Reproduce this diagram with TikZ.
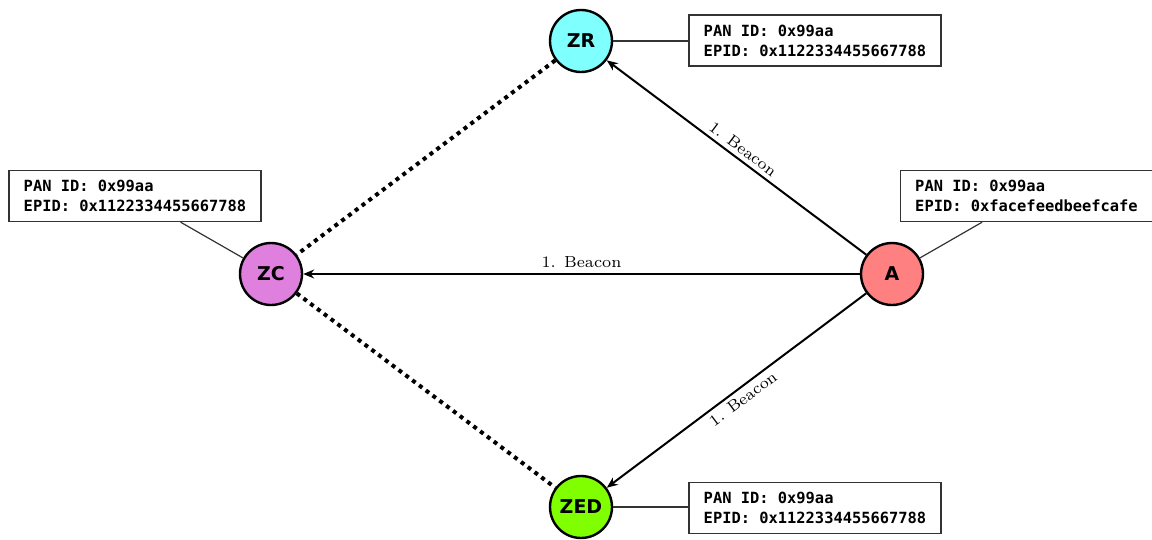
\documentclass[tikz,border=0pt]{standalone}
\usepackage{fontspec}
\newfontfamily\nodefont{DejaVu Sans}
\newfontfamily\monofont{DejaVu Sans Mono}
\newfontfamily\lblfont{lmroman7-regular.otf}
\usetikzlibrary{calc,arrows.meta}
\definecolor{zrcol}{HTML}{80FFFF}
\definecolor{zccol}{HTML}{DF80DF}
\definecolor{acol}{HTML}{FF8080}
\definecolor{zedcol}{HTML}{80FF00}
\tikzset{
  dev/.style={circle, draw=black, line width=2.4pt, minimum size=62pt, inner sep=0pt,
    font=\nodefont\bfseries\fontsize{19}{21}\selectfont},
  infobox/.style={draw=black!80, line width=1.3pt, fill=white, align=left,
    inner xsep=13pt, inner ysep=4pt, minimum width=252pt, minimum height=51pt,
    font=\monofont\bfseries\fontsize{15.4}{20}\selectfont},
  tie/.style={draw=black!80, line width=1.2pt},
  beacon/.style={draw=black, line width=2pt, -{Stealth[length=11pt,width=9pt]}},
  lbl/.style={font=\lblfont\fontsize{16}{18}\selectfont, inner sep=5pt},
  dotline/.style={draw=black, line width=4pt, dash pattern=on 4pt off 4.5pt}
}
\begin{document}
\begin{tikzpicture}[x=1pt,y=-1pt]
\useasboundingbox (0,0) rectangle (1152,539);
\node[dev, fill=zrcol] (zr) at (581,41) {ZR};
\node[dev, fill=zccol] (zc) at (271,274) {ZC};
\node[dev, fill=acol] (a) at (892,274) {A};
\node[dev, fill=zedcol] (zed) at (581,507) {ZED};

\node[infobox] (zrbox) at (815,40.5) {PAN ID: 0x99aa\\EPID: 0x1122334455667788};
\node[infobox] (zcbox) at (135,196) {PAN ID: 0x99aa\\EPID: 0x1122334455667788};
\node[infobox] (abox) at (1026.5,196) {PAN ID: 0x99aa\\EPID: 0xfacefeedbeefcafe};
\node[infobox] (zedbox) at (815,508) {PAN ID: 0x99aa\\EPID: 0x1122334455667788};

\draw[tie] (zr) -- (zrbox.west |- zr);
\draw[tie] (zed) -- (zedbox.west |- zed);
\coordinate (zctie) at ($(zcbox.south west)!0.68!(zcbox.south east)$);
\coordinate (atie) at ($(abox.south west)!0.325!(abox.south east)$);
\draw[tie] (zctie) -- (zc);
\draw[tie] (atie) -- (a);

\draw[dotline] (zr) -- (zc);
\draw[dotline] (zc) -- (zed);

\draw[beacon] (a) -- node[lbl, above] {1. Beacon} (zc);
\path (zr) -- node[lbl, sloped, above] {1. Beacon} (a);
\draw[beacon] (a) -- (zr);
\path (zed) -- node[lbl, sloped, below] {1. Beacon} (a);
\draw[beacon] (a) -- (zed);
\end{tikzpicture}
\end{document}
